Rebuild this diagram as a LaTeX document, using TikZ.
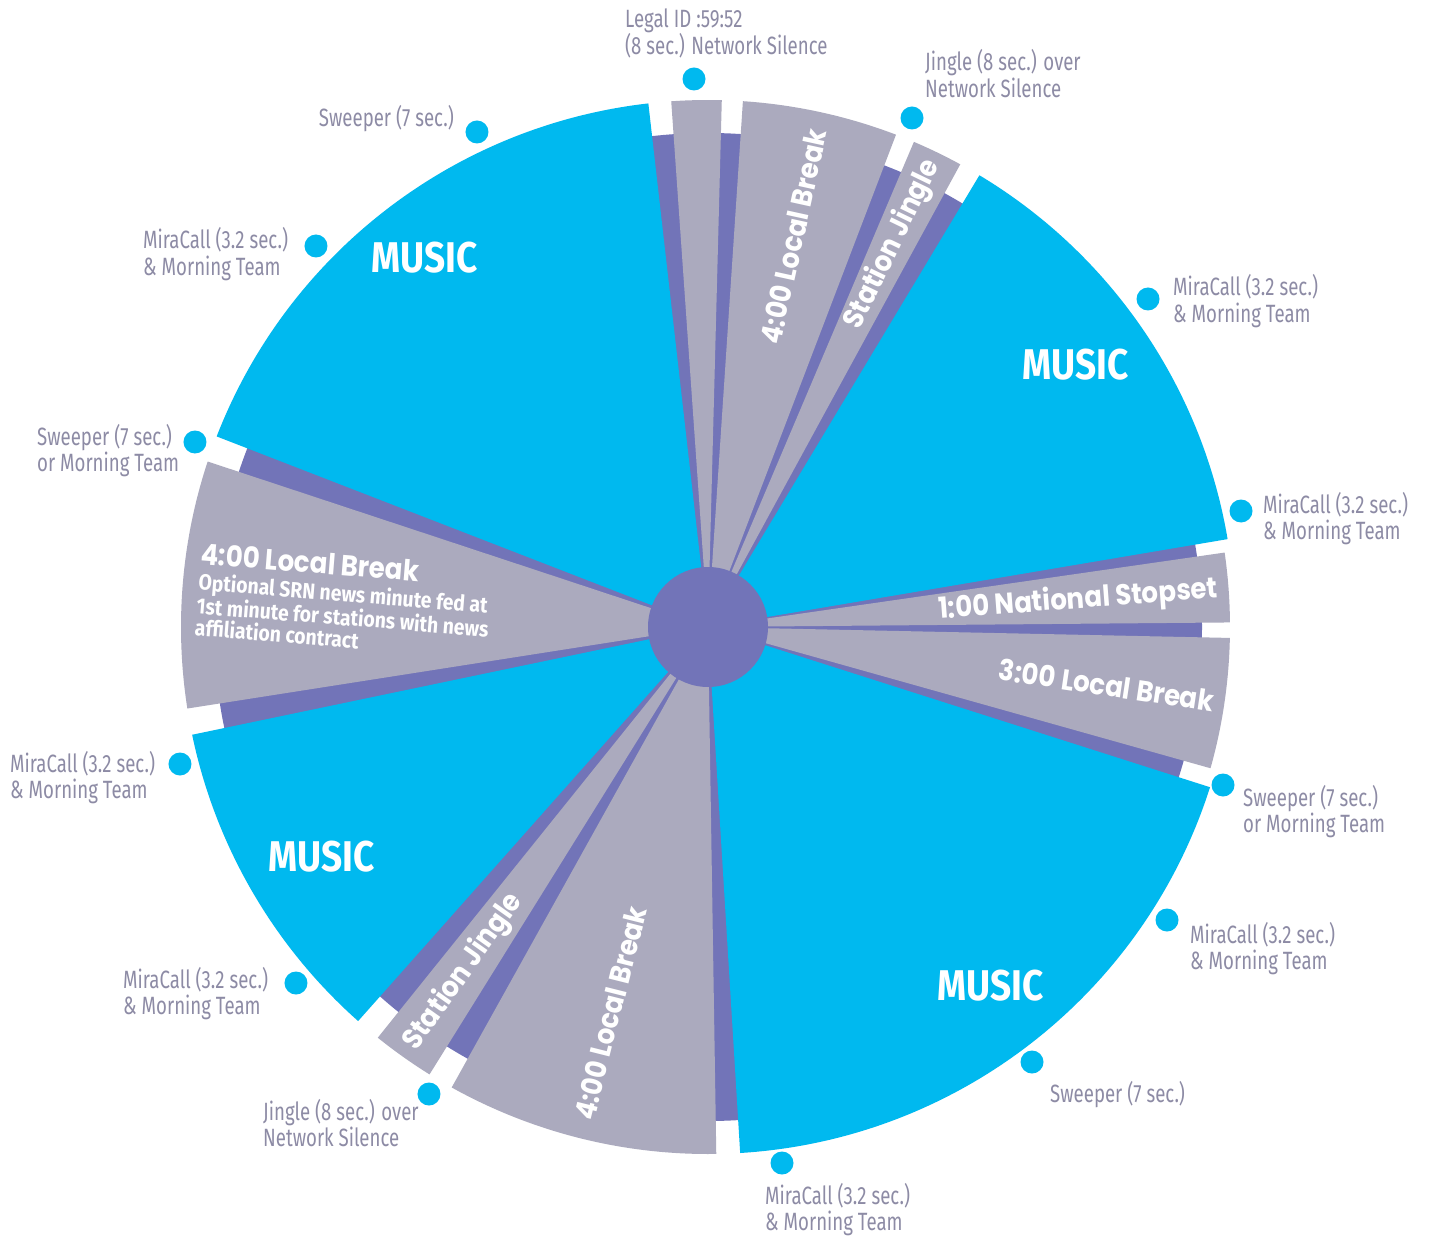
\documentclass[tikz,border=0pt]{standalone}
\usepackage{fontspec}
\newfontfamily\lblfont[FakeStretch=0.745]{Fira Sans}
\newfontfamily\musicfont[FakeStretch=0.86]{Fira Sans}
\newfontfamily\secfont[FakeStretch=0.90]{Poppins}
\newfontfamily\descfont[FakeStretch=0.88]{Fira Sans}
\definecolor{musicblue}{HTML}{00B9EF}
\definecolor{breakgray}{HTML}{ABAABE}
\definecolor{hubpurple}{HTML}{7274B8}
\definecolor{lbltext}{HTML}{8D8BA5}
\newcommand\twoline[2]{\vtop{\hbox{#1}\hbox{#2}}}
\newcommand\wedgefill[4]{\fill[#1] (0,0) -- (#2:#4pt) arc[start angle=#2, end angle=#3, radius=#4pt] -- cycle;}
\tikzset{
  lbl/.style={inner sep=0pt, text=lbltext, font=\lblfont\fontsize{25}{26.7}\selectfont, anchor=base west},
  lblr/.style={lbl, anchor=base east},
  dot/.style={circle, fill=musicblue, inner sep=0pt, minimum size=23pt},
  music/.style={text=white, font=\musicfont\bfseries\fontsize{43}{45}\selectfont, inner sep=0pt},
  sec/.style={text=white, font=\secfont\bfseries\fontsize{29}{31}\selectfont, inner sep=0pt},
}
\begin{document}
\begin{tikzpicture}[x=1pt,y=1pt]
\useasboundingbox[fill=white] (-708,-610) rectangle (723,627);
% purple under-disk
\fill[hubpurple] (0,0) circle[radius=494pt];
% sectors
\wedgefill{musicblue}{96.5}{158.8}{527}
\wedgefill{breakgray}{161.7}{188.9}{527}
\wedgefill{musicblue}{191.8}{228.4}{527}
\wedgefill{breakgray}{231.2}{238.1}{527}
\wedgefill{breakgray}{240.9}{270.9}{527}
\wedgefill{musicblue}{273.5}{342.3}{527}
\wedgefill{breakgray}{344.3}{358.8}{522}
\wedgefill{breakgray}{0.5}{8.2}{522}
\wedgefill{musicblue}{9.6}{59.0}{527}
\wedgefill{breakgray}{61.4}{67.0}{527}
\wedgefill{breakgray}{69.1}{86.2}{527}
\wedgefill{breakgray}{88.5}{94.0}{527}
% hub
\node[circle, fill=hubpurple, inner sep=0pt, minimum size=120pt] (hub) at (0,0) {};
% sector labels
\node[sec, rotate=77.65] (lbtop) at (77.65:400pt) {4:00 Local Break};
\node[sec, rotate=64.2] (sjtop) at (64.2:425pt) {Station Jingle};
\node[sec, rotate=4.35] (natstop) at (4.1:371pt) {1:00 National Stopset};
\node[sec, rotate=-8.45] (lb3) at (-8.3:403pt) {3:00 Local Break};
\node[sec, rotate=75.9] (lbbot) at (255.8:398pt) {4:00 Local Break};
\node[sec, rotate=54.65] (sjbot) at (234.7:423pt) {Station Jingle};
\begin{scope}[shift={(-708pt,627pt)}, x=1pt, y=-1pt]
% left break block
\node[rotate=-4.6, anchor=base west, inner sep=0pt, text=white] (lbleft) at (200,564)
  {\vtop{\hbox{\secfont\bfseries\fontsize{29}{31}\selectfont 4:00 Local Break}%
   \descfont\bfseries\fontsize{22}{26}\selectfont
   \hbox{Optional SRN news minute fed at}%
   \baselineskip=22pt
   \hbox{1st minute for stations with news}%
   \hbox{affiliation contract}}};
% music labels
\node[music] (m1) at (425,258) {MUSIC};
\node[music] (m2) at (1076,365) {MUSIC};
\node[music] (m4) at (322,857) {MUSIC};
\node[music] (m3) at (991,986) {MUSIC};
% outer markers and labels
\node[dot] (d-legal) at (694,79) {};
\node[lbl] (t-legal) at (625,28) {\twoline{Legal ID :59:52}{(8 sec.) Network Silence}};
\node[dot] (d-jtop) at (912,118) {};
\node[lbl] (t-jtop) at (925,71) {\twoline{Jingle (8 sec.) over}{Network Silence}};
\node[dot] (d-swtl) at (477,132) {};
\node[lblr] (t-swtl) at (454,127) {Sweeper (7 sec.)};
\node[dot] (d-mctl) at (316,246) {};
\node[lbl] (t-mctl) at (143,249) {\twoline{MiraCall (3.2 sec.)}{\& Morning Team}};
\node[dot] (d-swl) at (195,442) {};
\node[lbl] (t-swl) at (37,445) {\twoline{Sweeper (7 sec.)}{or Morning Team}};
\node[dot] (d-mctr) at (1148,299) {};
\node[lbl] (t-mctr) at (1173,296) {\twoline{MiraCall (3.2 sec.)}{\& Morning Team}};
\node[dot] (d-mcr) at (1241,511) {};
\node[lbl] (t-mcr) at (1263,513) {\twoline{MiraCall (3.2 sec.)}{\& Morning Team}};
\node[dot] (d-swr) at (1223,785) {};
\node[lbl] (t-swr) at (1243,806) {\twoline{Sweeper (7 sec.)}{or Morning Team}};
\node[dot] (d-mcbr) at (1167,920) {};
\node[lbl] (t-mcbr) at (1190,943) {\twoline{MiraCall (3.2 sec.)}{\& Morning Team}};
\node[dot] (d-swb) at (1032,1062) {};
\node[lbl] (t-swb) at (1050,1102) {Sweeper (7 sec.)};
\node[dot] (d-mcb) at (782,1163) {};
\node[lbl] (t-mcb) at (765,1204) {\twoline{MiraCall (3.2 sec.)}{\& Morning Team}};
\node[dot] (d-jbot) at (429,1094) {};
\node[lbl] (t-jbot) at (263,1120) {\twoline{Jingle (8 sec.) over}{Network Silence}};
\node[dot] (d-mcbl) at (296,983) {};
\node[lbl] (t-mcbl) at (123,988) {\twoline{MiraCall (3.2 sec.)}{\& Morning Team}};
\node[dot] (d-mcl) at (180,764) {};
\node[lbl] (t-mcl) at (10,772) {\twoline{MiraCall (3.2 sec.)}{\& Morning Team}};
\end{scope}
\end{tikzpicture}
\end{document}
